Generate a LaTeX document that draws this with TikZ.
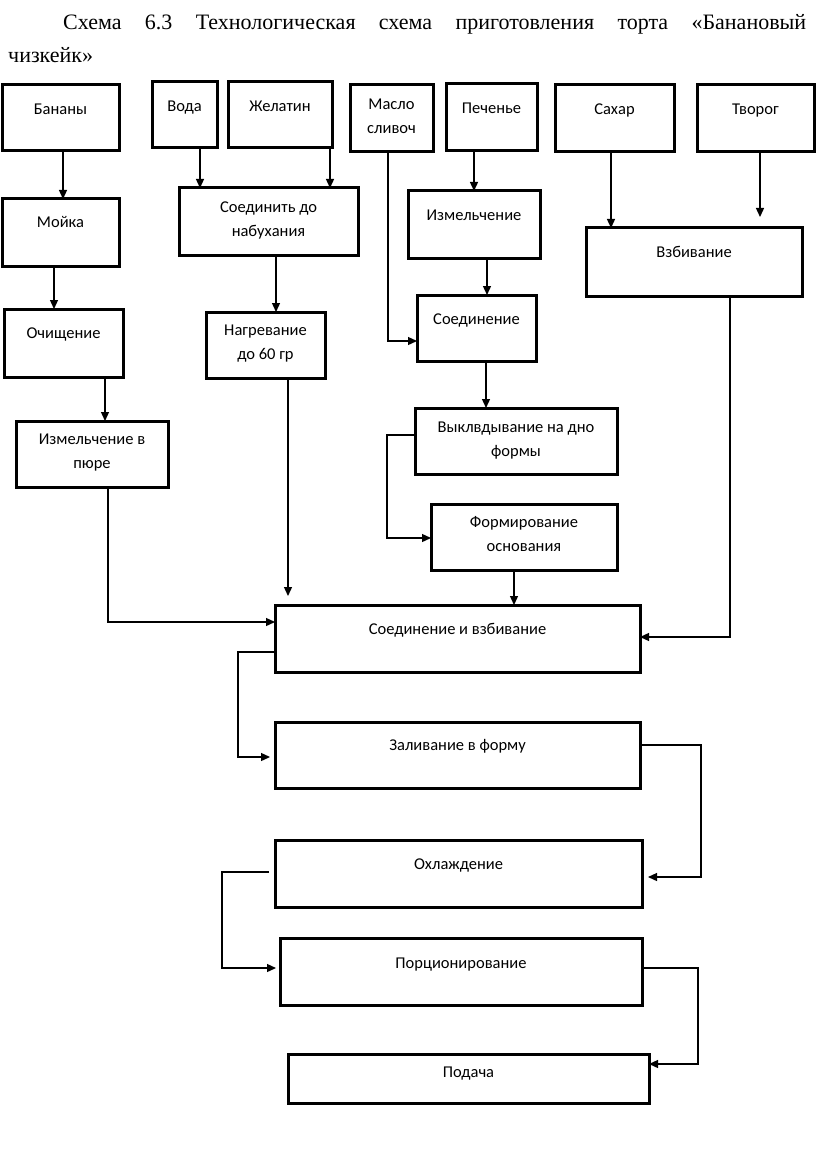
\documentclass[tikz,border=0pt]{standalone}
\usepackage{fontspec}
\setmainfont{Carlito}
\newfontfamily\titlefont{Liberation Serif}
\usetikzlibrary{arrows.meta}
\tikzset{
  box/.style={draw=black, line width=3pt, rectangle, inner sep=0pt, outer sep=0pt},
  lbl/.style={inner sep=0pt, align=center, font=\fontsize{16.5}{24}\selectfont},
  arr/.style={draw=black, line width=1.3pt, -{Triangle[length=9pt,width=8pt]}},
  ln/.style={draw=black, line width=1.3pt},
  ttl/.style={inner sep=0pt, font=\titlefont\fontsize{22}{33}\selectfont}
}
\newcommand\bx[7]{%
  \node[box, minimum width={(#4-#2)*1pt}, minimum height={(#5-#3)*1pt}] (#1) at ({(#2+#4)/2},{(#3+#5)/2}) {};
  \node[lbl, anchor=north] (#1-t) at ({(#2+#4)/2},{#3+#7-13}) {\rule{0pt}{13pt}#6};
}
\begin{document}
\begin{tikzpicture}[x=1pt,y=-1pt]
\useasboundingbox (0,0) rectangle (816,1158);
\node[ttl, anchor=base west] (title1) at (63,30) {\makebox[743pt][s]{Схема 6.3 Технологическая схема приготовления торта «Банановый}};
\node[ttl, anchor=base west] (title2) at (8,63) {чизкейк»};

\bx{ban}{2}{85}{119}{151}{Бананы}{29}
\bx{voda}{152}{82}{217}{148}{Вода}{29}
\bx{zhel}{228}{82}{332}{148}{Желатин}{29}
\bx{maslo}{350}{85}{433}{152}{Масло\\сливоч}{24}
\bx{pech}{446}{84}{537}{151}{Печенье}{29}
\bx{sahar}{555}{85}{674}{152}{Сахар}{29}
\bx{tvorog}{697}{85}{814}{152}{Творог}{29}
\bx{moika}{2}{199}{119}{266}{Мойка}{28}
\bx{soed1}{179}{188}{358}{255}{Соединить до\\набухания}{24}
\bx{izm1}{408}{191}{540}{258}{Измельчение}{29}
\bx{vzb}{586}{228}{802}{296}{Взбивание}{29}
\bx{och}{4}{309}{123}{377}{Очищение}{29}
\bx{nagr}{206}{312}{325}{378}{Нагревание\\до 60 гр}{23}
\bx{soed2}{417}{295}{536}{361}{Соединение}{29}
\bx{pyure}{16}{421}{168}{487}{Измельчение в\\пюре}{23}
\bx{vykl}{415}{408}{617}{474}{Выклвдывание на дно\\формы}{24}
\bx{form}{431}{504}{617}{570}{Формирование\\основания}{23}
\bx{sv}{275}{605}{640}{672}{Соединение и взбивание}{29}
\bx{zal}{275}{722}{640}{788}{Заливание в форму}{28}
\bx{ohl}{275}{840}{642}{907}{Охлаждение}{29}
\bx{porc}{280}{938}{642}{1005}{Порционирование}{30}
\bx{pod}{288}{1054}{649}{1103}{Подача}{23}

% connectors
\draw[arr] (ban.south -| 63,0) -- (moika.north -| 63,0);
\draw[arr] (moika.south -| 54,0) -- (och.north -| 54,0);
\draw[arr] (och.south -| 105,0) -- (pyure.north -| 105,0);
\draw[arr] (pyure.south -| 108,0) |- (sv.west |- 0,622);
\draw[arr] (voda.south -| 200,0) -- (soed1.north -| 200,0);
\draw[arr] (zhel.south -| 330,0) -- (soed1.north -| 330,0);
\draw[arr] (soed1.south -| 276,0) -- (nagr.north -| 276,0);
\draw[arr, shorten >=9pt] (nagr.south -| 288,0) -- (sv.north -| 288,0);
\draw[arr] (maslo.south -| 388,0) |- (soed2.west |- 0,341);
\draw[arr] (pech.south -| 474,0) -- (izm1.north -| 474,0);
\draw[arr] (izm1.south -| 487,0) -- (soed2.north -| 487,0);
\draw[arr] (soed2.south -| 486,0) -- (vykl.north -| 486,0);
\draw[arr] (vykl.west |- 0,435) -- (387,435) |- (form.west |- 0,538);
\draw[arr] (form.south -| 508,0) -| (sv.north -| 514,0);
\draw[arr] (sahar.south -| 611,0) -- (vzb.north -| 611,0);
\draw[arr, shorten >=11pt] (tvorog.south -| 760,0) -- (vzb.north -| 760,0);
\draw[arr] (vzb.south -| 730,0) |- (sv.east |- 0,637);
\draw[arr, shorten >=5pt] (sv.west |- 0,652) -- (238,652) |- (zal.west |- 0,757);
\draw[arr, shorten >=6pt] (zal.east |- 0,745) -- (701,745) |- (ohl.east |- 0,877);
\draw[arr, shorten <=6pt, shorten >=4pt] (ohl.west |- 0,872) -- (222,872) |- (porc.west |- 0,968);
\draw[arr] (porc.east |- 0,968) -- (698,968) |- (pod.east |- 0,1064);
\end{tikzpicture}
\end{document}
